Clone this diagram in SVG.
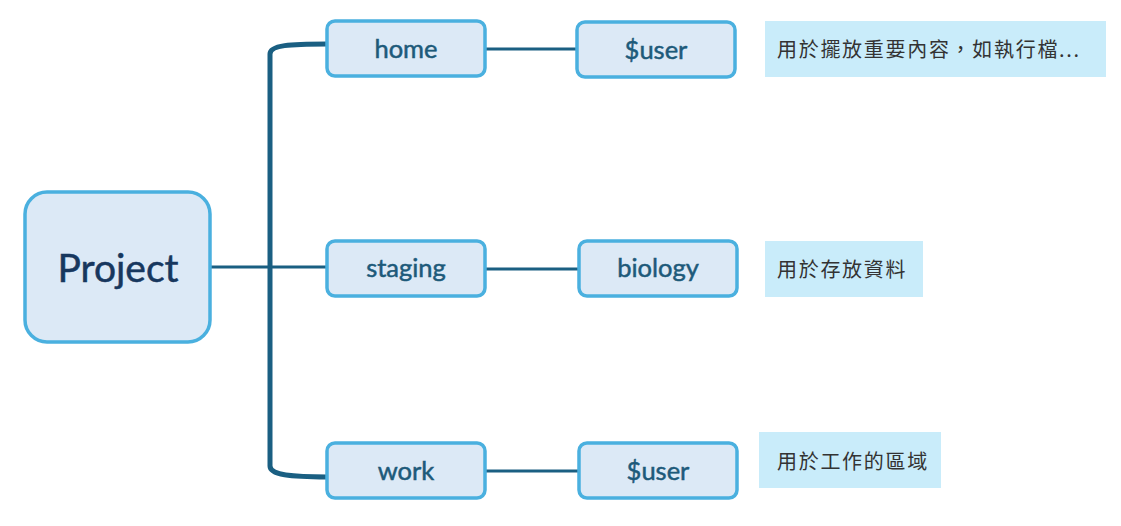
<svg xmlns="http://www.w3.org/2000/svg" width="1121" height="526" viewBox="0 0 1121 526">
<style>
.node{fill:#DCE9F6;stroke:#4AB0DF;stroke-width:3.5}
.lbl{font-family:Lato,"Noto Sans",sans-serif;fill:#1D5A7A;stroke:#1D5A7A;stroke-width:0.5;font-size:25.5px;text-anchor:middle}
.big{font-family:Lato,"Noto Sans",sans-serif;fill:#17375E;stroke:#17375E;stroke-width:0.5;font-size:39px;text-anchor:middle}
.note{fill:#C9ECFA}
.nt{font-family:"Noto Sans CJK TC",sans-serif;fill:#333;font-size:20px;letter-spacing:1.7px}
.c{fill:none;stroke:#1A5F82;stroke-width:3}
.trunk{fill:none;stroke:#1A5F82;stroke-width:5}
</style>
<rect width="1121" height="526" fill="#fff"/>
<g id="connectors">
<path class="trunk" d="M327,44 C290,44 270,45 270,54 L270,466 C270,475 290,477 327,477"/>
<path class="c" d="M210,267 L327,267"/>
<path class="c" d="M485,49 L577,49"/>
<path class="c" d="M485,269 L579,269"/>
<path class="c" d="M485,471 L579,471"/>
</g>
<g id="project"><rect class="node" x="25" y="192" width="185" height="150" rx="22"/><text class="big" x="118" y="282">Project</text></g>
<g id="home"><rect class="node" x="327" y="21" width="158" height="55" rx="8"/><text class="lbl" x="406" y="58">home</text></g>
<g id="user1"><rect class="node" x="577" y="22" width="158" height="55" rx="8"/><text class="lbl" x="656" y="59">$user</text></g>
<g id="staging"><rect class="node" x="327" y="241" width="158" height="55" rx="8"/><text class="lbl" x="406" y="277">staging</text></g>
<g id="biology"><rect class="node" x="579" y="241" width="158" height="55" rx="8"/><text class="lbl" x="658" y="277">biology</text></g>
<g id="work"><rect class="node" x="327" y="443" width="158" height="55" rx="8"/><text class="lbl" x="406" y="480">work</text></g>
<g id="user2"><rect class="node" x="579" y="443" width="158" height="55" rx="8"/><text class="lbl" x="658" y="480">$user</text></g>
<g id="note1"><rect class="note" x="765" y="21" width="341" height="56"/><text class="nt" x="777" y="57">用於擺放重要內容，如執行檔...</text></g>
<g id="note2"><rect class="note" x="765" y="241" width="158" height="56"/><text class="nt" x="777" y="277">用於存放資料</text></g>
<g id="note3"><rect class="note" x="759" y="432" width="182" height="56"/><text class="nt" x="777" y="469">用於工作的區域</text></g>
</svg>
